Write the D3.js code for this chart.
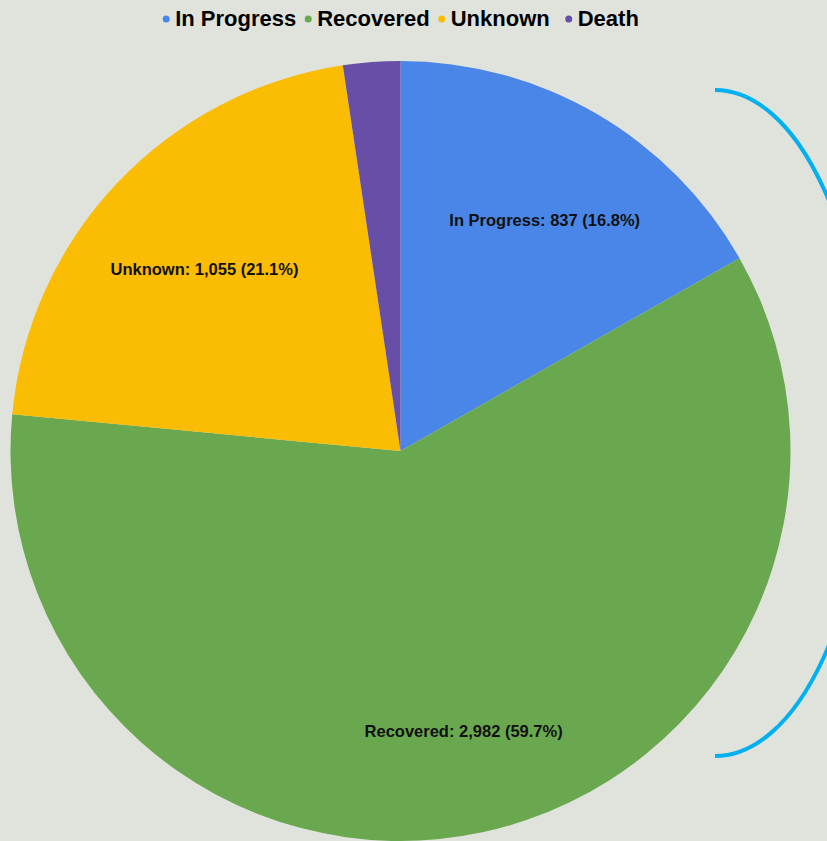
<!DOCTYPE html>
<html>
<head>
<meta charset="utf-8">
<script src="https://cdn.jsdelivr.net/npm/d3@7"></script>
<style>
  html, body { margin: 0; padding: 0; background: #e0e3db; overflow: hidden; }
  svg { display: block; font-family: "Liberation Sans", Arial, sans-serif; }
</style>
</head>
<body>
<svg id="chart" width="827" height="841"></svg>
<script>
const categories = ['In Progress', 'Recovered', 'Unknown', 'Death']
const values = [837, 2982, 1055, 118]
const colors = ['#4a86e8', '#6aa84f', '#fbbc04', '#674ea7']

const width = 827
const height = 841
const cx = 400.5
const cy = 451
const radius = 390

const svg = d3.select('#chart')

const total = d3.sum(values)
const fmt = d3.format(',')
const pct = d3.format('.1%')

const pie = d3.pie().sort(null).value(d => d.value)
const arcs = pie(categories.map((c, i) => ({ name: c, value: values[i], color: colors[i] })))

const arc = d3.arc().innerRadius(0).outerRadius(radius)
const labelArc = d3.arc().innerRadius(radius * 0.71).outerRadius(radius * 0.71)

const g = svg.append('g').attr('transform', `translate(${cx},${cy})`)

g.selectAll('.slice')
	.data(arcs)
	.enter()
	.append('path')
	.attr('class', 'slice')
	.attr('d', arc)
	.attr('fill', d => d.data.color)

g.selectAll('.slice-label')
	.data(arcs.filter(d => d.data.value / total > 0.05))
	.enter()
	.append('text')
	.attr('class', 'slice-label')
	.attr('transform', d => {
		const [lx, ly] = labelArc.centroid(d)
		return `translate(${lx + 5},${ly + 9})`
	})
	.attr('text-anchor', 'middle')
	.attr('dy', '0.35em')
	.attr('font-size', 16.5)
	.attr('font-weight', 'bold')
	.attr('fill', '#111')
	.text(d => `${d.data.name}: ${fmt(d.data.value)} (${pct(d.data.value / total)})`)

// bracket-like arc on the right
svg.append('path')
	.attr('d', 'M715,90 A153,333 0 0 1 715,756')
	.attr('fill', 'none')
	.attr('stroke', '#00b0f0')
	.attr('stroke-width', 4)

// legend
const legend = svg.append('g').attr('class', 'legend')
let x = 0
const items = legend.selectAll('g')
	.data(categories)
	.enter()
	.append('g')

items.append('circle')
	.attr('r', 3.5)
	.attr('cy', -7)
	.attr('fill', (d, i) => colors[i])

items.append('text')
	.attr('x', 9)
	.attr('font-size', 22)
	.attr('font-weight', 'bold')
	.attr('fill', '#000')
	.text(d => d)

items.each(function (d, i) {
	const w = this.querySelector('text').getComputedTextLength()
	d3.select(this).attr('transform', `translate(${x},0)`)
	x += w + 9 + (i === 2 ? 19 : 12)
})
const legendW = x - 12
legend.attr('transform', `translate(${(width - legendW) / 2 - 11},26)`)
</script>
</body>
</html>
